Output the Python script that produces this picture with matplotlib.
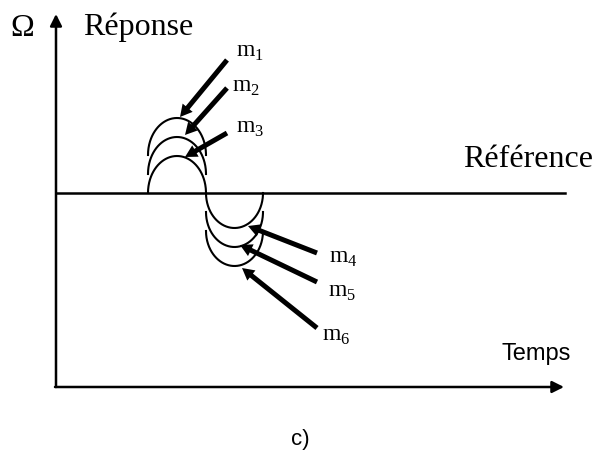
import matplotlib.pyplot as plt
import numpy as np

plt.rcParams['mathtext.fontset'] = 'custom'
plt.rcParams['mathtext.rm'] = 'Liberation Serif'

# arc geometry (pixel units of the drawing)
upper_base = [193, 174, 155]
lower_base = [193, 212, 231]
upper_span = (148, 206)
lower_span = (206, 263)
upper_h = 37
lower_h = 35
ref_y = 193

labels_up = ['m$_1$', 'm$_2$', 'm$_3$']
labels_up_pos = [(236, 57), (232, 92), (236, 133)]
arrows_up = [((227, 60), (180, 117)), ((227, 88), (185, 135)), ((227, 133), (185, 157))]

labels_lo = ['m$_4$', 'm$_5$', 'm$_6$']
labels_lo_pos = [(329, 263), (328, 297), (322, 341)]
arrows_lo = [((317, 253), (248, 226)), ((317, 282), (240, 245)), ((317, 328), (242, 268))]

fig = plt.figure(figsize=(6.1, 4.53), dpi=100)
ax = fig.add_axes([0, 0, 1, 1])
ax.set_xlim(0, 610)
ax.set_ylim(453, 0)
ax.axis('off')

# axes with arrows
ax.annotate('', xy=(56, 14), xytext=(56, 387),
            arrowprops=dict(arrowstyle='-|>,head_length=0.5,head_width=0.25', lw=1.8, color='k',
                            shrinkA=0, shrinkB=0, mutation_scale=14))
ax.annotate('', xy=(564, 387), xytext=(55, 387),
            arrowprops=dict(arrowstyle='-|>,head_length=0.5,head_width=0.25', lw=1.8, color='k',
                            shrinkA=0, shrinkB=0, mutation_scale=14))
ax.plot([56, 565], [ref_y, ref_y], color='k', lw=1.8)


def half_ellipse(x0, x1, base, h, sign):
    t = np.linspace(0, np.pi, 200)
    c = (x0 + x1) / 2
    w = (x1 - x0) / 2
    return c - w * np.cos(t), base - sign * h * np.sin(t)


for b in upper_base:
    x, y = half_ellipse(upper_span[0], upper_span[1], b, upper_h, 1)
    ax.plot(x, y, color='k', lw=1.5)
for b in lower_base:
    x, y = half_ellipse(lower_span[0], lower_span[1], b, lower_h, -1)
    ax.plot(x, y, color='k', lw=1.5)

for (tail, tip) in arrows_up + arrows_lo:
    ax.arrow(tail[0], tail[1], tip[0] - tail[0], tip[1] - tail[1], width=5, head_width=13,
             head_length=12, length_includes_head=True, color='k', lw=0)

for s, (x, y) in zip(labels_up + labels_lo, labels_up_pos + labels_lo_pos):
    ax.text(x, y, s, fontsize=17, family='Liberation Serif', va='baseline', ha='left')

ax.text(10, 36, 'Ω', fontsize=23, family='Liberation Serif', va='baseline', ha='left')
ax.text(83, 35, 'Réponse', fontsize=23, family='Liberation Serif', va='baseline', ha='left')
ax.text(463, 167, 'Référence', fontsize=23, family='Liberation Serif', va='baseline', ha='left')
ax.text(501, 360, 'Temps', fontsize=17, family='Liberation Sans', va='baseline', ha='left')
ax.text(300, 445, 'c)', fontsize=16, family='Liberation Sans', va='baseline', ha='center')

fig.savefig('out.png', dpi=100)
